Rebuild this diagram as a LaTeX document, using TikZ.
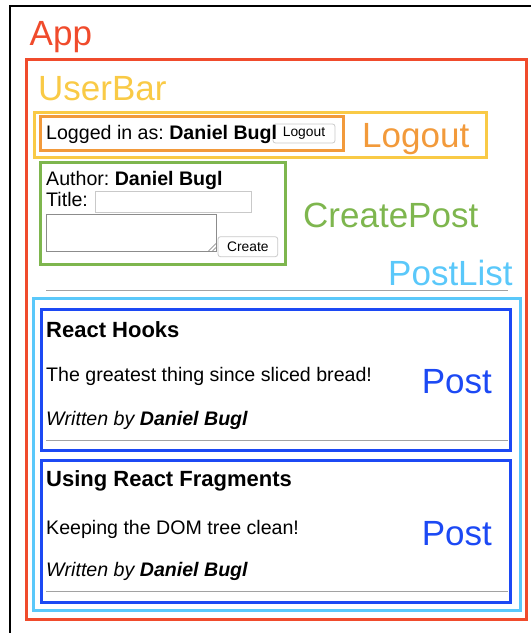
\documentclass[tikz,border=0pt]{standalone}
\usepackage{fontspec}
\setmainfont{Liberation Sans}
\usetikzlibrary{fit}
\frenchspacing
\definecolor{appred}{HTML}{F04B2C}
\definecolor{ubyellow}{HTML}{F9CA46}
\definecolor{loorange}{HTML}{F29A3B}
\definecolor{cpgreen}{HTML}{7EB64E}
\definecolor{pllblue}{HTML}{5AC8FA}
\definecolor{postblue}{HTML}{1C49F4}
\definecolor{hrgrey}{HTML}{A2A2A2}
\definecolor{btngrey}{HTML}{C9C9C9}
\tikzset{
  box/.style={draw=#1, line width=3pt, inner sep=0pt},
  lbl/.style={anchor=base west, inner sep=0pt, text=#1, font=\fontsize{35}{40}\selectfont},
  txt/.style={anchor=base west, inner sep=0pt, font=\fontsize{19.6}{23}\selectfont},
  ttl/.style={anchor=base west, inner sep=0pt, font=\fontsize{22}{26}\selectfont\bfseries},
  btn/.style={draw=btngrey, fill=white, line width=0.8pt, rounded corners=2.5pt, inner sep=0pt},
  btntxt/.style={inner sep=0pt, font=\fontsize{13.8}{16}\selectfont},
  field/.style={draw=#1, line width=0.9pt, inner sep=0pt},
  hrline/.style={draw=hrgrey, line width=1.3pt}
}
\begin{document}
\begin{tikzpicture}[x=1pt,y=-1pt]
\useasboundingbox (0,0) rectangle (531,633);
% outer frame (clipped at right and bottom)
\coordinate (fb) at (10,634);
\coordinate (ftl) at (10,6);
\coordinate (fr) at (532,6);
\draw[line width=2pt] (fb) -- (ftl) -- (fr);

% component boxes
\node[box=appred, fit={(26,59) (526,619)}] (app) {};
\node[box=ubyellow, fit={(34,112) (486.7,157)}] (userbar) {};
\node[box=loorange, fit={(40.7,116.7) (343,150.7)}] (logoutbox) {};
\node[box=cpgreen, fit={(40.7,162.7) (285.7,264)}] (createpost) {};
\node[box=pllblue, fit={(33,298) (520,610.7)}] (postlist) {};
\node[box=postblue, fit={(41.7,309) (510.7,450)}] (post1) {};
\node[box=postblue, fit={(41.7,460) (510.7,602.3)}] (post2) {};

% labels
\node[lbl=appred] (lapp) at (29.5,45) {App};
\node[lbl=ubyellow] (luserbar) at (38,100) {UserBar};
\node[lbl=loorange] (llogout) at (362,147) {Logout};
\node[lbl=cpgreen] (lcreate) at (303,227.7) {CreatePost};
\node[lbl=pllblue] (lpostlist) at (388,285.7) {PostList};
\node[lbl=postblue] (lpost1) at (421.7,393.3) {Post};
\node[lbl=postblue] (lpost2) at (421.7,545) {Post};

% UserBar / Logout contents
\node[btn, fit={(273,124) (335,143)}] (logoutbtn) {};
\node[btntxt] (logoutbtntxt) at (logoutbtn.center) {Logout};
\node[txt] (logged) at (46,139) {Logged in as: \textbf{Daniel Bugl}};

% CreatePost contents
\node[txt] (author) at (46,185) {Author: \textbf{Daniel Bugl}};
\node[txt] (title) at (46,206) {Title:};
\node[field=btngrey, fit={(95,191.7) (251.7,212)}] (titlein) {};
\node[field=black!45, fit={(46,214) (216.7,251.7)}] (textarea) {};
\coordinate (g1a) at (208.5,251); \coordinate (g1b) at (216,243.5);
\coordinate (g2a) at (212.5,251); \coordinate (g2b) at (216,247.5);
\draw[black!55, line width=0.6pt] (g1a) -- (g1b) (g2a) -- (g2b);
\node[btn, fit={(218,236.7) (277.7,256.7)}] (createbtn) {};
\node[btntxt] (createbtntxt) at (createbtn.center) {Create};

% PostList separator
\coordinate (hr0a) at (46,290.7); \coordinate (hr0b) at (508,290.7);
\draw[hrline] (hr0a) -- (hr0b);

% Post 1
\node[ttl] (p1title) at (46,337.3) {React Hooks};
\node[txt] (p1body) at (46,381.7) {The greatest thing since sliced bread!};
\node[txt] (p1auth) at (46,425.7) {\itshape Written by \textbf{Daniel Bugl}};
\coordinate (hr1a) at (46,440.7); \coordinate (hr1b) at (508,440.7);
\draw[hrline] (hr1a) -- (hr1b);

% Post 2
\node[ttl] (p2title) at (46,486.7) {Using React Fragments};
\node[txt] (p2body) at (46,534) {Keeping the DOM tree clean!};
\node[txt] (p2auth) at (46,576.7) {\itshape Written by \textbf{Daniel Bugl}};
\coordinate (hr2a) at (46,591.7); \coordinate (hr2b) at (508,591.7);
\draw[hrline] (hr2a) -- (hr2b);
\end{tikzpicture}
\end{document}
